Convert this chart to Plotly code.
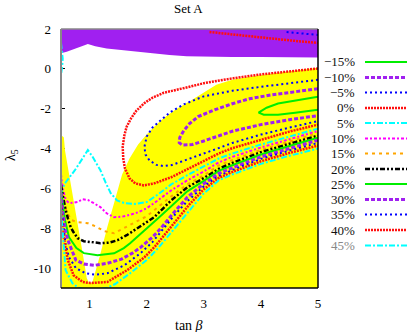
import plotly.graph_objects as go

# ---------------- data ----------------
level_labels = ["\u221215%", "\u221210%", "\u22125%", "0%", "5%", "10%", "15%",
                "20%", "25%", "30%", "35%", "40%", "45%"]

x_ticks = [1, 2, 3, 4, 5]
y_ticks = [2, 0, -2, -4, -6, -8, -10]
y_tick_text = ["2", "0", "-2", "-4", "-6", "-8", "-10"]

# excluded (purple) region
excl_x = [0.5, 0.5, 0.6, 0.75, 0.9, 0.97, 1.1, 1.3, 1.56, 1.8, 2.13, 2.4, 2.7, 3.0, 3.5, 4.0, 4.5, 5.0, 5.0]
excl_y = [2.0, 0.78, 0.86, 1.0, 1.17, 1.25, 1.13, 1.02, 0.94, 0.87, 0.79, 0.7, 0.63, 0.61, 0.6, 0.59, 0.58, 0.57, 2.0]

# allowed (yellow) region
allow_x = [0.5, 0.5, 0.53, 0.55, 0.57, 0.62, 0.7, 0.8, 0.9, 0.95, 1.0, 1.05, 1.18, 1.31, 1.45, 1.57,
           1.7, 1.85, 2.0, 2.15, 2.3, 2.5, 2.74, 3.0, 3.22, 3.5, 3.8, 4.4, 5.0, 5.0]
allow_y = [-11, -3.4, -3.38, -3.45, -4.1, -4.9, -6.2, -7.9, -9.6, -10.5, -10.8, -10.7, -9.4, -7.95, -6.5, -5.3,
           -4.5, -3.8, -3.3, -2.85, -2.47, -2.05, -1.65, -1.2, -0.8, -0.55, -0.4, -0.16, 0.05, -11]

# contour levels
m15_x = [5.0, 4.6, 4.3, 4.1, 3.96, 4.05, 4.3, 4.6, 5.0]
m15_y = [-1.4, -1.58, -1.74, -1.95, -2.2, -2.3, -2.3, -2.2, -2.05]

m10_x = [5.0, 4.6, 4.2, 3.8, 3.5, 3.2, 2.9, 2.75, 2.65, 2.58, 2.57, 2.62, 2.8, 3.0, 3.26, 3.5, 4.0, 4.5, 5.0]
m10_y = [-1.0, -1.15, -1.3, -1.5, -1.75, -2.05, -2.4, -2.75, -3.1, -3.45, -3.7, -3.82, -3.8, -3.62, -3.35,
         -3.13, -2.8, -2.55, -2.35]

m5_x = [4.45, 4.7, 5.0, None,
        5.0, 4.5, 4.0, 3.5, 3.0, 2.65, 2.4, 2.25, 2.1, 2.0, 1.96, 1.98, 2.05, 2.17, 2.3, 2.44, 2.65, 3.0,
        3.26, 3.5, 4.0, 4.5, 5.0]
m5_y = [1.85, 1.78, 1.7, None,
        -0.55, -0.72, -0.9, -1.1, -1.38, -1.78, -2.2, -2.57, -2.95, -3.4, -3.93, -4.3, -4.6, -4.82, -4.88,
        -4.83, -4.62, -4.25, -3.98, -3.72, -3.3, -2.95, -2.62]

z0_x = [3.1, 3.5, 4.0, 4.5, 5.0, None,
        5.0, 4.5, 4.0, 3.5, 3.0, 2.75, 2.5, 2.3, 2.1, 1.96, 1.82, 1.73, 1.65, 1.61, 1.58, 1.59, 1.62, 1.7,
        1.8, 1.95, 2.13, 2.43, 2.74, 3.0, 3.26, 3.5, 4.0, 4.5, 5.0]
z0_y = [1.85, 1.72, 1.57, 1.43, 1.3, None,
        0.02, -0.12, -0.28, -0.48, -0.72, -0.9, -1.05, -1.2, -1.45, -1.72, -2.1, -2.47, -2.9, -3.33, -3.9,
        -4.5, -5.0, -5.5, -5.75, -5.85, -5.75, -5.44, -5.0, -4.62, -4.25, -3.98, -3.55, -3.15, -2.8]

p5_x = [0.5, 0.53, 0.57, 0.64, 0.74, 0.82, 0.9, 0.97, 1.05, 1.12, 1.19, 1.28, 1.37, 1.48, 1.61, 1.8, 2.0,
        2.2, 2.43, 2.71, 3.0, 3.26, 3.5, 4.0, 4.5, 5.0]
p5_y = [-6.3, -6.0, -5.74, -5.5, -5.1, -4.75, -4.4, -4.08, -4.4, -4.75, -5.09, -5.7, -6.24, -6.6, -6.74,
        -6.78, -6.69, -6.3, -5.8, -5.34, -4.9, -4.5, -4.25, -3.8, -3.4, -3.0]

p10_x = [0.5, 0.53, 0.58, 0.64, 0.72, 0.79, 0.88, 0.97, 1.08, 1.19, 1.3, 1.43, 1.57, 1.71, 1.85, 2.0, 2.13,
         2.43, 2.71, 3.0, 3.26, 3.5, 4.0, 4.5, 5.0]
p10_y = [-5.3, -6.0, -6.55, -6.74, -6.72, -6.68, -6.55, -6.58, -6.75, -6.94, -7.25, -7.45, -7.42, -7.33,
         -7.2, -7.0, -6.74, -6.1, -5.6, -5.15, -4.7, -4.42, -3.95, -3.55, -3.12]

p15_x = [0.5, 0.54, 0.6, 0.69, 0.8, 0.97, 1.1, 1.26, 1.43, 1.6, 1.8, 2.0, 2.13, 2.43, 2.71, 3.0, 3.26, 3.5,
         4.0, 4.5, 5.0]
p15_y = [-5.6, -6.5, -7.2, -7.6, -7.7, -7.75, -7.9, -8.15, -8.25, -8.0, -7.7, -7.4, -7.1, -6.4, -5.8, -5.35,
         -4.85, -4.58, -4.07, -3.65, -3.22]

p20_x = [0.5, 0.54, 0.57, 0.62, 0.67, 0.72, 0.79, 0.9, 1.02, 1.19, 1.35, 1.49, 1.65, 1.78, 2.0, 2.13, 2.43,
         2.71, 3.0, 3.26, 3.5, 4.0, 4.5, 5.0]
p20_y = [-5.84, -6.5, -6.94, -7.5, -7.95, -8.2, -8.5, -8.65, -8.7, -8.75, -8.72, -8.6, -8.35, -8.1, -7.7,
         -7.45, -6.6, -5.95, -5.48, -5.02, -4.72, -4.18, -3.76, -3.35]

p25_x = [0.5, 0.53, 0.57, 0.64, 0.77, 0.9, 1.14, 1.43, 1.6, 1.71, 1.83, 2.0, 2.2, 2.43, 2.71, 3.0, 3.26, 3.5,
         4.0, 4.5, 5.0]
p25_y = [-6.0, -6.8, -7.6, -8.45, -9.0, -9.25, -9.36, -9.26, -9.0, -8.75, -8.45, -8.0, -7.5, -6.9, -6.15,
         -5.62, -5.12, -4.84, -4.3, -3.87, -3.46]

p30_x = [0.5, 0.53, 0.58, 0.64, 0.76, 0.9, 1.09, 1.31, 1.56, 1.75, 1.9, 2.1, 2.25, 2.45, 2.71, 3.0, 3.26,
         3.5, 4.0, 4.5, 5.0]
p30_y = [-6.24, -7.2, -8.2, -8.75, -9.6, -9.8, -9.86, -9.76, -9.55, -9.25, -8.95, -8.45, -8.0, -7.3, -6.45,
         -5.77, -5.26, -4.97, -4.42, -4.0, -3.58]

p35_x = [0.5, 0.53, 0.58, 0.64, 0.76, 0.93, 1.1, 1.31, 1.61, 1.89, 2.1, 2.3, 2.5, 2.71, 3.0, 3.26, 3.5, 4.0,
         4.5, 5.0]
p35_y = [-6.5, -7.6, -8.8, -9.46, -10.0, -10.26, -10.33, -10.26, -9.86, -9.26, -8.7, -8.0, -7.3, -6.65,
         -5.9, -5.38, -5.08, -4.52, -4.1, -3.72]

p40_x = [0.5, 0.53, 0.58, 0.62, 0.72, 0.88, 1.02, 1.31, 1.66, 1.96, 2.15, 2.35, 2.55, 2.75, 3.0, 3.26, 3.5,
         4.0, 4.5, 5.0]
p40_y = [-6.8, -8.1, -9.0, -9.6, -10.36, -10.7, -10.75, -10.7, -10.1, -9.46, -8.9, -8.2, -7.5, -6.8, -6.05,
         -5.48, -5.18, -4.64, -4.22, -3.85]

p45_x = [0.5, 0.52, 0.53, 0.52, 0.5, None,
         0.5, 0.54, 0.58, 0.7, 0.81, 0.9, 1.1, 1.3, 1.45, 1.71, 2.0, 2.2, 2.4, 2.6, 2.8, 3.0, 3.26, 3.5, 4.0,
         4.5, 5.0]
p45_y = [1.3, 0.9, 0.5, 0.1, -0.3, None,
         -7.0, -8.5, -10.1, -10.76, -11.0, -11.05, -11.1, -11.0, -10.8, -10.26, -9.6, -9.0, -8.3, -7.6, -6.95,
         -6.25, -5.6, -5.3, -4.77, -4.36, -4.0]

curves_x = [m15_x, m10_x, m5_x, z0_x, p5_x, p10_x, p15_x, p20_x, p25_x, p30_x, p35_x, p40_x, p45_x]
curves_y = [m15_y, m10_y, m5_y, z0_y, p5_y, p10_y, p15_y, p20_y, p25_y, p30_y, p35_y, p40_y, p45_y]

# ---------------- styles ----------------
GREEN, PURPLE, BLUE, RED, CYAN = "#00EE00", "#A020F0", "#0000FF", "#FF1010", "#00FFFF"
MAGENTA, ORANGE, BLACK = "#FF00FF", "#FFA500", "#000000"
styles = [
    dict(color=GREEN, width=2, dash="solid"),
    dict(color=PURPLE, width=3, dash="4px,2px"),
    dict(color=BLUE, width=2, dash="2px,3px"),
    dict(color=RED, width=2.5, dash="2px,1px"),
    dict(color=CYAN, width=2, dash="6px,2px,2px,2px"),
    dict(color=MAGENTA, width=2, dash="3px,2px,2px,2px"),
    dict(color=ORANGE, width=2, dash="3px,4px"),
    dict(color=BLACK, width=2.5, dash="5px,2px,2px,2px,2px,2px"),
    dict(color=GREEN, width=2, dash="solid"),
    dict(color=PURPLE, width=3, dash="4px,2px"),
    dict(color=BLUE, width=2, dash="2px,3px"),
    dict(color=RED, width=2.5, dash="2px,1px"),
    dict(color=CYAN, width=2, dash="6px,2px,2px,2px"),
]

FONT = "Liberation Serif"

fig = go.Figure()
fig.add_trace(go.Scatter(x=excl_x, y=excl_y, mode="lines", fill="toself", fillcolor=PURPLE,
                         line=dict(width=0, color=PURPLE), showlegend=False, hoverinfo="skip"))
fig.add_trace(go.Scatter(x=allow_x, y=allow_y, mode="lines", fill="toself", fillcolor="#FFFF00",
                         line=dict(width=0, color="#FFFF00"), showlegend=False, hoverinfo="skip"))
for cx, cy, st, lab in zip(curves_x, curves_y, styles, level_labels):
    fig.add_trace(go.Scatter(x=cx, y=cy, mode="lines", line=st, name=lab, showlegend=False,
                             connectgaps=False))

# ---------------- layout ----------------
W, H = 407, 332
ML, MR, MT, MB = 61, 89, 29, 44
PW, PH = W - ML - MR, H - MT - MB

def px2paper_x(px):
    return (px - ML) / PW

def py2paper_y(py):
    return (H - MB - py) / PH

shapes = []
annotations = []
legend_py = [62, 77.5, 92.5, 108, 123, 138.5, 153.5, 169, 184, 199.5, 214.5, 230, 245.5]
for i, (lab, st) in enumerate(zip(level_labels, styles)):
    yy = py2paper_y(legend_py[i])
    annotations.append(dict(x=px2paper_x(357), y=yy, xref="paper", yref="paper", text=lab,
                            showarrow=False, xanchor="right", yanchor="middle",
                            font=dict(family=FONT, size=13,
                                      color="#888888" if lab == "45%" else "#111111")))
    shapes.append(dict(type="line", xref="paper", yref="paper", x0=px2paper_x(365), x1=px2paper_x(420),
                       y0=yy, y1=yy, line=st))

# frame
shapes += [
    dict(type="line", xref="paper", yref="paper", x0=0, x1=0, y0=0, y1=1, line=dict(color="#888888", width=2)),
    dict(type="line", xref="paper", yref="paper", x0=0, x1=1, y0=1, y1=1, line=dict(color="#888888", width=1.5)),
    dict(type="line", xref="paper", yref="paper", x0=1, x1=1, y0=0, y1=1, line=dict(color="#000000", width=1.5)),
    dict(type="line", xref="paper", yref="paper", x0=0, x1=1, y0=0, y1=0, line=dict(color="#000000", width=1.5)),
]

annotations += [
    dict(x=px2paper_x(188), y=py2paper_y(9), xref="paper", yref="paper", text="Set A", showarrow=False,
         xanchor="center", yanchor="middle", font=dict(family=FONT, size=13, color="#000")),
    dict(x=px2paper_x(189), y=py2paper_y(325), xref="paper", yref="paper", text="tan <i>\u03b2</i>",
         showarrow=False, xanchor="center", yanchor="middle", font=dict(family=FONT, size=14, color="#000")),
    dict(x=px2paper_x(11), y=py2paper_y(155), xref="paper", yref="paper", text="\u03bb<sub>5</sub>",
         showarrow=False, xanchor="center", yanchor="middle", textangle=-90,
         font=dict(family=FONT, size=14, color="#000")),
]

fig.update_layout(
    width=W, height=H,
    margin=dict(l=ML, r=MR, t=MT, b=MB, pad=0),
    paper_bgcolor="white", plot_bgcolor="white",
    showlegend=False,
    shapes=shapes, annotations=annotations,
    xaxis=dict(range=[0.5, 5], tickvals=x_ticks, ticks="inside", ticklen=4, tickcolor="#000",
               showgrid=False, zeroline=False, showline=False, mirror="ticks", layer="below traces",
               tickfont=dict(family=FONT, size=13, color="#000"), ticklabelstandoff=6),
    yaxis=dict(range=[-11, 2], tickvals=y_ticks, ticktext=y_tick_text, ticks="inside", ticklen=4,
               tickcolor="#000", showgrid=False, zeroline=False, showline=False, mirror="ticks",
               layer="below traces", tickfont=dict(family=FONT, size=13, color="#000"),
               ticklabelstandoff=9),
)

fig.write_html("out.html", config={"displayModeBar": False},
               post_script="document.body.style.margin='0px';document.body.style.overflow='hidden';")
